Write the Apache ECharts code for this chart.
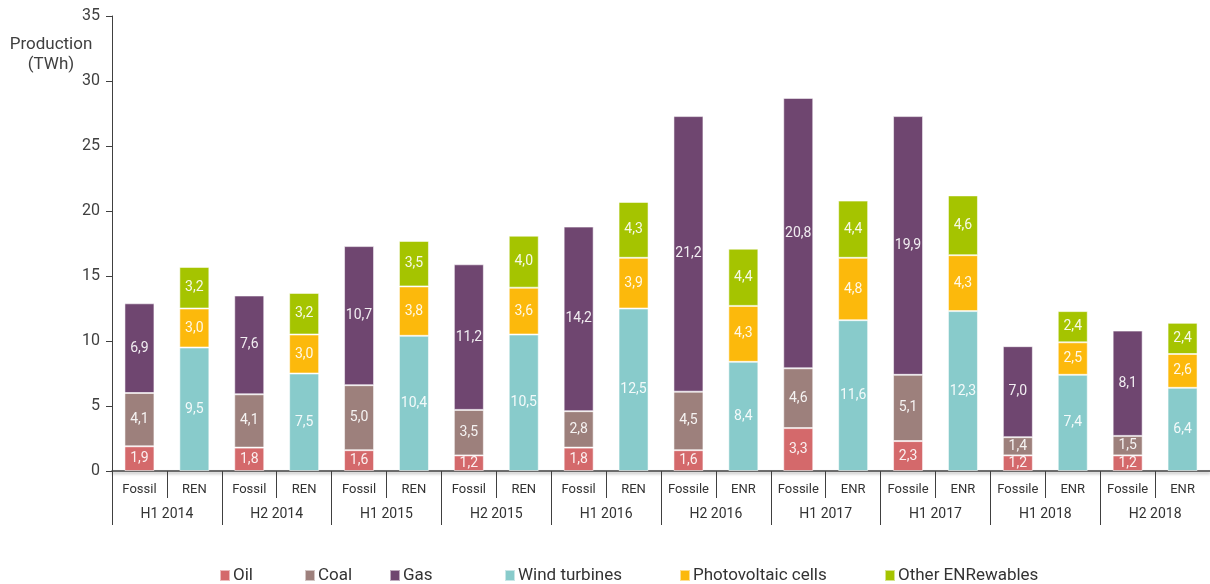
<!DOCTYPE html>
<html>
<head>
<meta charset="utf-8">
<script src="https://cdn.jsdelivr.net/npm/echarts@6/dist/echarts.min.js"></script>
<style>
  html, body { margin: 0; padding: 0; background: #fff; }
  #main { width: 1210px; height: 584px; }
</style>
</head>
<body>
<div id="main"></div>
<script>
// half-year groups and the two bars in each
var groups = ['H1 2014', 'H2 2014', 'H1 2015', 'H2 2015', 'H1 2016', 'H2 2016', 'H1 2017', 'H1 2017', 'H1 2018', 'H2 2018'];
var fossilNames = ['Fossil', 'Fossil', 'Fossil', 'Fossil', 'Fossil', 'Fossile', 'Fossile', 'Fossile', 'Fossile', 'Fossile'];
var renNames = ['REN', 'REN', 'REN', 'REN', 'REN', 'ENR', 'ENR', 'ENR', 'ENR', 'ENR'];

// TWh per group
var oil = [1.9, 1.8, 1.6, 1.2, 1.8, 1.6, 3.3, 2.3, 1.2, 1.2];
var coal = [4.1, 4.1, 5.0, 3.5, 2.8, 4.5, 4.6, 5.1, 1.4, 1.5];
var gas = [6.9, 7.6, 10.7, 11.2, 14.2, 21.2, 20.8, 19.9, 7.0, 8.1];
var wind = [9.5, 7.5, 10.4, 10.5, 12.5, 8.4, 11.6, 12.3, 7.4, 6.4];
var pv = [3.0, 3.0, 3.8, 3.6, 3.9, 4.3, 4.8, 4.3, 2.5, 2.6];
var other = [3.2, 3.2, 3.5, 4.0, 4.3, 4.4, 4.4, 4.6, 2.4, 2.4];

var yTicks = [0, 5, 10, 15, 20, 25, 30, 35];

// 20 slots: fossil bar then renewable bar for each group
var cats = [];
groups.forEach(function (g, i) {
  cats.push(fossilNames[i]);
  cats.push(renNames[i]);
});
function onFossil(arr) {
  var out = [];
  arr.forEach(function (v) { out.push(v, '-'); });
  return out;
}
function onRen(arr) {
  var out = [];
  arr.forEach(function (v) { out.push('-', v); });
  return out;
}

var font = 'Roboto, "Noto Sans", sans-serif';
var axisColor = '#404040';

function barSeries(name, data, color) {
  return {
    name: name,
    type: 'bar',
    stack: 'total',
    barWidth: 30,
    data: data,
    itemStyle: {
      color: color,
      borderColor: 'rgba(255,255,255,0.55)',
      borderWidth: 1
    },
    label: {
      show: true,
      position: 'inside',
      color: 'rgba(255,255,255,0.9)',
      fontFamily: font,
      fontSize: 14,
      formatter: function (p) { return p.value.toFixed(1).replace('.', ','); }
    }
  };
}

var names = ['Oil', 'Coal', 'Gas', 'Wind turbines', 'Photovoltaic cells', 'Other ENRewables'];
var legendLeft = [214, 299, 384, 499, 674, 879];
var legends = names.map(function (n, i) {
  return {
    data: [n],
    left: legendLeft[i],
    top: 562,
    icon: 'rect',
    itemWidth: 10,
    itemHeight: 11,
    itemGap: 0,
    textStyle: { fontFamily: font, fontSize: 17, color: '#333', padding: [0, 0, 0, -2] }
  };
});

var option = {
  animation: false,
  backgroundColor: '#fff',
  legend: legends,
  graphic: [{
    type: 'text',
    x: 51,
    y: 35,
    style: {
      text: 'Production\n(TWh)',
      align: 'center',
      fontFamily: font,
      fontSize: 17,
      lineHeight: 20,
      fill: '#404040'
    }
  }],
  grid: { left: 112, right: -2, top: 16, bottom: 113 },
  xAxis: [{
    type: 'category',
    data: cats,
    position: 'bottom',
    axisLine: { lineStyle: { color: axisColor, width: 1.5, shadowColor: 'rgba(0,0,0,0.35)', shadowBlur: 3, shadowOffsetY: 2 } },
    axisTick: { show: true, interval: 0, alignWithLabel: false, length: 27, lineStyle: { color: axisColor } },
    axisLabel: { margin: 12, fontFamily: font, fontSize: 13, color: '#333', interval: 0 }
  }, {
    type: 'category',
    data: groups,
    position: 'bottom',
    axisLine: { show: false },
    axisTick: { show: true, interval: 0, alignWithLabel: false, length: 54, lineStyle: { color: axisColor } },
    axisLabel: { margin: 36, fontFamily: font, fontSize: 14, color: '#333', interval: 0 }
  }],
  yAxis: {
    type: 'value',
    min: yTicks[0],
    max: yTicks[yTicks.length - 1],
    interval: 5,
    splitLine: { show: false },
    axisLine: { show: true, lineStyle: { color: axisColor } },
    axisTick: { show: true, length: 6, lineStyle: { color: axisColor } },
    axisLabel: { margin: 12, fontFamily: font, fontSize: 16, color: '#404040' }
  },
  series: [
    barSeries('Oil', onFossil(oil), '#d4696b'),
    barSeries('Coal', onFossil(coal), '#9d807c'),
    barSeries('Gas', onFossil(gas), '#6f4670'),
    barSeries('Wind turbines', onRen(wind), '#88cbcb'),
    barSeries('Photovoltaic cells', onRen(pv), '#fcb90c'),
    barSeries('Other ENRewables', onRen(other), '#a5c400')
  ]
};

var myChart = echarts.init(document.getElementById('main'));
myChart.setOption(option);
</script>
</body>
</html>
